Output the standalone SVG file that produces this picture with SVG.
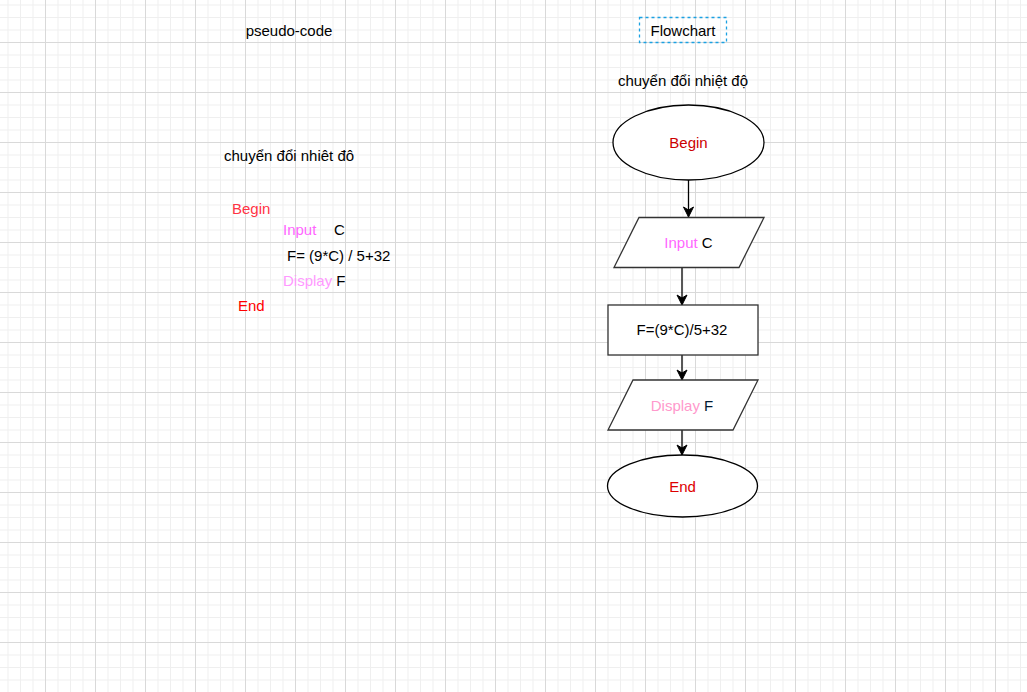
<svg xmlns="http://www.w3.org/2000/svg" width="1027" height="692" viewBox="0 0 1027 692">
<defs>
<pattern id="grid" patternUnits="userSpaceOnUse" x="45" y="42" width="50" height="50">
<path d="M13 0V50M25.5 0V50M38 0V50M0 13H50M0 25.5H50M0 38H50" stroke="#efefef" stroke-width="1" fill="none"/>
<path d="M0.5 0V50M0 0.5H50" stroke="#d9d9d9" stroke-width="1" fill="none"/>
</pattern>
<marker id="arr" markerUnits="userSpaceOnUse" markerWidth="12" markerHeight="12" viewBox="0 0 12 12" refX="11" refY="6" orient="auto">
<path d="M1 1 L11 6 L1 11 L4 6 Z" fill="#000" stroke="#000" stroke-width="1"/>
</marker>
</defs>
<style>
text{font-family:"Liberation Sans",Arial,sans-serif;font-size:15px;fill:#000}
.c{text-anchor:middle}
.shape{fill:#fff;stroke:#333;stroke-width:1.3}
.ell{fill:#fff;stroke:#000;stroke-width:1.3}
.conn{stroke:#000;stroke-width:1.3;fill:none}
</style>
<rect width="1027" height="692" fill="#fff"/>
<rect width="1027" height="692" fill="url(#grid)"/>

<g id="pseudo-title"><text x="289" y="36" class="c">pseudo-code</text></g>
<g id="pseudo-heading"><text x="224" y="161">chuyển đổi nhiêt đô</text></g>
<g id="pseudo-code-body">
<text x="232" y="214" style="fill:#ff3344">Begin</text>
<text x="283" y="235"><tspan style="fill:#ff66ff">Input</tspan><tspan x="334">C</tspan></text>
<text x="287" y="261">F= (9*C) / 5+32</text>
<text x="283" y="286"><tspan style="fill:#ff99ff">Display</tspan> F</text>
<text x="238" y="311" style="fill:#ff0000">End</text>
</g>

<g id="flowchart-title">
<rect x="639.5" y="17.5" width="87" height="25" fill="none" stroke="#1ba1e2" stroke-width="1.3" stroke-dasharray="3 3"/>
<text x="683" y="36" class="c">Flowchart</text>
</g>
<g id="flowchart-heading"><text x="683" y="86" class="c">chuyển đổi nhiệt độ</text></g>

<g id="connectors">
<line x1="688.5" y1="180" x2="688.5" y2="217" class="conn" marker-end="url(#arr)"/>
<line x1="682" y1="267" x2="682" y2="305" class="conn" marker-end="url(#arr)"/>
<line x1="682" y1="355" x2="682" y2="380" class="conn" marker-end="url(#arr)"/>
<line x1="682" y1="430" x2="682" y2="455" class="conn" marker-end="url(#arr)"/>
</g>

<g id="node-begin">
<ellipse cx="688.5" cy="142.5" rx="75.5" ry="37.5" class="ell"/>
<text x="688.5" y="148" class="c" style="fill:#cc0000">Begin</text>
</g>
<g id="node-input">
<polygon points="639,217.5 764,217.5 739,267.5 614,267.5" class="shape"/>
<text x="688.5" y="248" class="c"><tspan style="fill:#ff66ff">Input</tspan> C</text>
</g>
<g id="node-process">
<rect x="608" y="305" width="150" height="50" class="shape"/>
<text x="682" y="335" class="c">F=(9*C)/5+32</text>
</g>
<g id="node-display">
<polygon points="633,380 758,380 733,430 608,430" class="shape"/>
<text x="682" y="411" class="c"><tspan style="fill:#ff99cc">Display</tspan> <tspan style="fill:#001a33">F</tspan></text>
</g>
<g id="node-end">
<ellipse cx="682.5" cy="486" rx="75" ry="31" class="ell"/>
<text x="682.5" y="492" class="c" style="fill:#dd0000">End</text>
</g>
</svg>
